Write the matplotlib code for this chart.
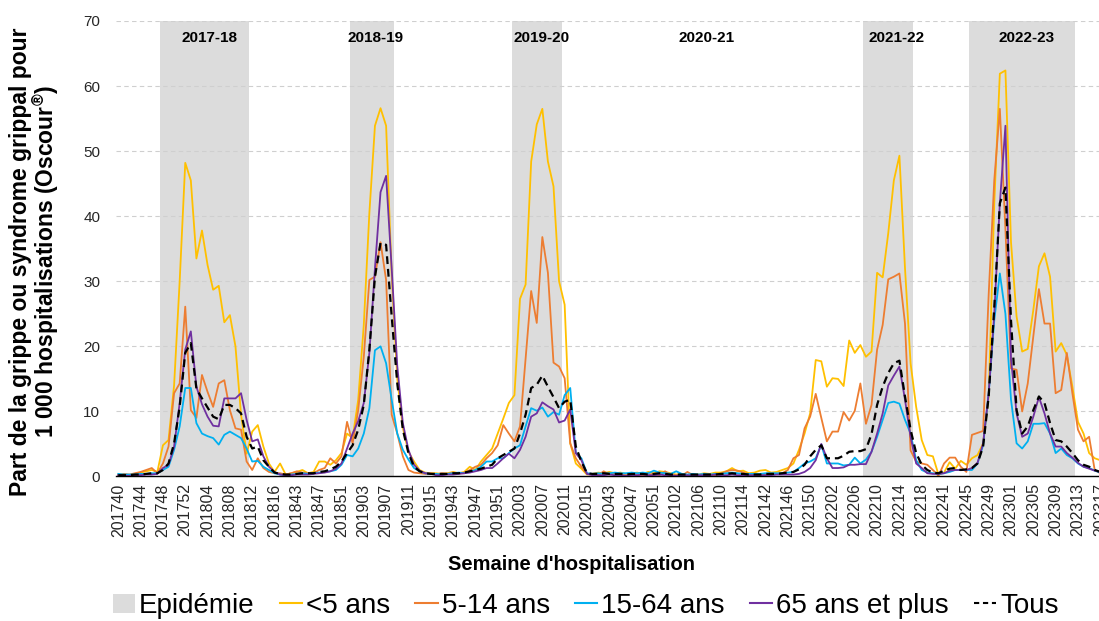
import matplotlib
matplotlib.use("Agg")
import matplotlib.pyplot as plt
from matplotlib.patches import Patch
from matplotlib.lines import Line2D

plt.rcParams['font.family'] = ['Liberation Sans', 'DejaVu Sans']
plt.rcParams['mathtext.fontset'] = 'custom'
plt.rcParams['mathtext.rm'] = 'Liberation Sans:bold'
plt.rcParams['mathtext.default'] = 'rm'

# ---------------- data ----------------
# seasons covered (start year, start week, end year, end week)
season_ranges = [(2017, 40, 2018, 16), (2018, 40, 2019, 15), (2019, 40, 2020, 15),
                 (2020, 40, 2021, 15), (2021, 40, 2022, 20), (2022, 40, 2023, 17)]
weeks_per_year = {2017: 52, 2018: 52, 2019: 52, 2020: 53, 2021: 52, 2022: 52}

weeks = []
for y1, w1, y2, w2 in season_ranges:
    for w in range(w1, weeks_per_year[y1] + 1):
        weeks.append(f"{y1}{w:02d}")
    for w in range(1, w2 + 1):
        weeks.append(f"{y2}{w:02d}")

# epidemic periods (first week, last week)
epidemics = [("201748", "201811"), ("201901", "201908"), ("202002", "202010"),
             ("202208", "202216"), ("202246", "202312")]
season_labels = ["2017-18", "2018-19", "2019-20", "2020-21", "2021-22", "2022-23"]

under5 = [0.3, 0.3, 0.2, 0.4, 0.6, 0.8, 1.0, 0.7, 4.8, 5.6, 14.0, 30.0, 48.2, 45.5, 33.5,
          37.8, 32.5, 28.7, 29.3, 23.7, 24.8, 20.0, 9.5, 3.5, 6.9, 7.9, 4.6, 2.0, 0.7,
          2.0, 0.3, 0.5, 0.7, 1.0, 0.5, 0.7, 2.3, 2.3, 1.8, 2.5, 3.6, 6.6, 5.9, 11.8,
          23.3, 40.5, 53.9, 56.6, 53.9, 31.0, 15.0, 7.5, 3.8, 2.3, 1.0, 0.6, 0.5,
          0.5, 0.4, 0.5, 0.7, 0.5, 0.7, 1.5, 1.0, 2.3, 3.3, 4.3, 6.6, 8.9, 11.3, 12.5,
          27.3, 29.5, 48.4, 54.1, 56.5, 48.4, 44.6, 30.0, 26.4, 5.1, 2.0, 1.2, 0.3,
          0.4, 0.6, 0.5, 0.7, 0.5, 0.6, 0.4, 0.5, 0.6, 0.4, 0.7, 0.5, 0.8, 0.7, 0.5,
          0.3, 0.4, 0.2, 0.3, 0.3, 0.5, 0.4, 0.6, 0.6, 0.8, 1.3, 0.8, 0.9, 0.5,
          0.6, 0.9, 1.0, 0.6, 0.7, 1.0, 1.3, 2.0, 4.1, 6.6, 9.7, 17.9, 17.7, 13.8, 15.1,
          15.0, 13.9, 20.9, 19.0, 20.2, 18.4, 19.2, 31.3, 30.6, 37.4, 45.5, 49.3, 32.0,
          17.4, 10.7, 5.6, 3.3, 3.1,
          0.3, 0.6, 2.2, 1.2, 2.4, 1.8, 2.8, 3.3, 5.1, 12.3, 42.0, 61.9, 62.4, 36.0, 24.6,
          19.2, 19.6, 25.6, 32.3, 34.3, 30.7, 19.2, 20.5, 18.7, 13.8, 8.4, 6.6, 3.6, 2.8, 2.5]

age5_14 = [0.2, 0.4, 0.3, 0.5, 0.7, 1.0, 1.3, 0.5, 2.0, 4.6, 12.8, 14.3, 26.1, 10.2, 9.0,
           15.6, 13.0, 10.7, 14.3, 14.8, 10.2, 7.4, 7.2, 2.3, 1.0, 2.8, 1.3, 0.7, 0.5,
           0.5, 0.3, 0.5, 0.8, 0.6, 0.5, 0.5, 1.0, 1.3, 2.8, 2.0, 3.1, 8.4, 5.1, 10.2,
           18.4, 30.2, 30.7, 36.0, 30.2, 9.5, 6.6, 3.1, 1.0, 0.6, 0.5, 0.4, 0.5,
           0.3, 0.5, 0.4, 0.6, 0.5, 0.5, 1.0, 1.5, 1.8, 2.8, 3.6, 4.8, 7.9, 6.6, 5.4,
           7.7, 18.1, 28.5, 23.6, 36.8, 31.3, 17.5, 16.9, 15.1, 5.1, 2.8, 1.5, 0.4,
           0.3, 0.2, 0.8, 0.3, 0.5, 0.3, 0.2, 0.4, 0.3, 0.2, 0.3, 0.4, 0.2, 0.8, 0.2,
           0.2, 0.1, 0.7, 0.2, 0.2, 0.3, 0.3, 0.2, 0.4, 0.8, 1.0, 0.9, 0.6, 0.3,
           0.3, 0.4, 0.3, 0.4, 0.4, 0.5, 1.0, 2.8, 3.3, 7.4, 9.2, 12.7, 9.0, 5.4, 6.9,
           6.9, 9.9, 8.6, 10.1, 14.3, 8.1, 11.0, 19.5, 23.3, 30.3, 30.7, 31.2, 23.5,
           4.0, 2.3, 2.0, 1.8, 1.0,
           0.1, 2.0, 2.9, 2.9, 1.5, 0.7, 6.4, 6.7, 7.0, 28.0, 45.5, 56.5, 38.0, 16.6, 16.4,
           10.0, 14.3, 21.5, 28.8, 23.5, 23.5, 12.8, 13.3, 19.0, 12.8, 7.2, 5.4, 6.1, 1.0, 0.5]

age15_64 = [0.4, 0.3, 0.3, 0.3, 0.4, 0.4, 0.5, 0.5, 1.0, 1.5, 4.1, 7.7, 13.6, 13.6, 8.2,
            6.6, 6.2, 5.9, 4.9, 6.4, 6.9, 6.4, 5.9, 4.3, 2.3, 2.4, 1.5, 1.0, 0.5,
            0.3, 0.2, 0.3, 0.4, 0.5, 0.4, 0.5, 0.6, 0.7, 0.8, 1.0, 1.8, 3.3, 3.1, 4.3,
            6.6, 10.5, 19.4, 20.0, 17.4, 11.8, 6.6, 4.1, 2.6, 1.3, 0.8, 0.5, 0.4,
            0.4, 0.3, 0.4, 0.5, 0.6, 0.5, 0.7, 1.0, 1.5, 2.3, 2.3, 2.8, 2.8, 3.6, 4.3,
            4.8, 7.7, 10.5, 10.1, 10.6, 9.2, 9.9, 9.5, 12.5, 13.6, 3.6, 2.8, 0.5,
            0.4, 0.5, 0.4, 0.5, 0.6, 0.5, 0.5, 0.6, 0.5, 0.6, 0.5, 0.9, 0.6, 0.5, 0.4,
            0.8, 0.4, 0.3, 0.4, 0.3, 0.4, 0.3, 0.4, 0.4, 0.5, 0.6, 0.5, 0.4, 0.4,
            0.4, 0.4, 0.5, 0.5, 0.5, 0.5, 0.6, 0.7, 1.3, 2.0, 2.3, 2.8, 4.9, 2.0, 2.0,
            2.0, 1.7, 1.8, 2.9, 2.0, 2.6, 3.8, 6.1, 8.7, 11.3, 11.5, 11.2, 8.7,
            6.6, 2.5, 1.0, 0.6, 0.5,
            0.4, 0.5, 0.7, 1.0, 1.0, 1.0, 1.0, 2.0, 4.8, 12.8, 24.0, 31.2, 25.0, 11.8, 5.1,
            4.3, 5.4, 8.1, 8.1, 8.2, 6.6, 3.6, 4.3, 3.3, 2.8, 2.0, 1.5, 1.3, 0.9, 0.6]

age65plus = [0.2, 0.1, 0.1, 0.2, 0.2, 0.3, 0.3, 0.4, 1.3, 1.8, 4.6, 11.3, 19.5, 22.3, 13.8,
             11.1, 9.2, 7.8, 7.7, 12.0, 12.0, 12.0, 12.8, 8.7, 5.4, 5.7, 3.1, 1.5, 0.7,
             0.3, 0.2, 0.2, 0.3, 0.3, 0.3, 0.4, 0.5, 0.6, 0.8, 1.2, 2.0, 4.3, 6.6, 8.5,
             11.3, 19.0, 32.0, 43.7, 46.2, 32.0, 17.0, 8.2, 4.1, 1.8, 0.9, 0.5, 0.4,
             0.2, 0.2, 0.3, 0.3, 0.4, 0.5, 0.6, 0.8, 1.0, 1.3, 1.3, 2.0, 2.8, 3.5, 2.8,
             4.1, 6.1, 9.2, 9.7, 11.4, 10.8, 10.3, 8.3, 8.6, 10.3, 3.6, 2.5, 0.4,
             0.2, 0.2, 0.2, 0.3, 0.2, 0.2, 0.1, 0.2, 0.2, 0.3, 0.2, 0.2, 0.3, 0.2, 0.2,
             0.1, 0.2, 0.2, 0.1, 0.2, 0.2, 0.2, 0.3, 0.2, 0.2, 0.3, 0.2, 0.2, 0.2,
             0.2, 0.2, 0.2, 0.2, 0.3, 0.3, 0.3, 0.3, 0.4, 0.7, 1.3, 2.5, 5.0, 2.8, 1.3,
             1.3, 1.4, 1.8, 1.8, 1.9, 1.9, 3.8, 6.6, 9.7, 14.0, 15.5, 16.9, 11.8,
             6.1, 2.0, 1.3, 0.5, 0.4,
             0.4, 0.5, 0.9, 1.0, 1.0, 1.0, 1.3, 2.1, 5.1, 12.8, 25.0, 42.0, 53.9, 18.0, 9.7,
             6.1, 6.6, 9.2, 12.2, 9.7, 6.6, 4.6, 4.6, 3.6, 2.9, 2.1, 1.5, 1.2, 0.9, 0.7]

tous = [0.2, 0.2, 0.2, 0.3, 0.3, 0.4, 0.5, 0.5, 1.0, 2.0, 5.1, 10.7, 19.0, 20.5, 13.5,
        12.0, 10.6, 9.2, 8.8, 11.0, 11.0, 10.5, 9.7, 6.1, 4.3, 4.6, 2.5, 1.5, 0.6,
        0.4, 0.3, 0.3, 0.4, 0.5, 0.5, 0.5, 0.7, 0.8, 1.1, 1.5, 2.3, 3.6, 4.8, 7.2,
        11.0, 19.5, 30.7, 35.9, 35.6, 24.6, 14.3, 7.2, 3.6, 1.5, 0.8, 0.5, 0.4,
        0.4, 0.4, 0.4, 0.5, 0.5, 0.6, 0.8, 1.0, 1.2, 1.5, 1.8, 2.8, 3.3, 3.8, 4.3,
        6.6, 9.5, 13.6, 14.1, 15.5, 13.8, 12.2, 10.5, 11.5, 11.8, 4.6, 2.3, 0.5,
        0.4, 0.4, 0.5, 0.4, 0.4, 0.4, 0.3, 0.4, 0.4, 0.4, 0.3, 0.4, 0.5, 0.4, 0.3,
        0.3, 0.3, 0.3, 0.3, 0.3, 0.3, 0.3, 0.3, 0.4, 0.4, 0.5, 0.4, 0.4, 0.3,
        0.3, 0.3, 0.4, 0.4, 0.4, 0.5, 0.6, 0.7, 1.1, 1.8, 3.1, 4.1, 4.8, 2.8, 2.8,
        2.8, 3.2, 3.8, 3.9, 3.9, 4.2, 6.5, 11.0, 13.8, 15.9, 17.4, 17.8, 12.3,
        7.2, 3.6, 1.8, 1.0, 0.6,
        0.5, 0.9, 1.2, 1.3, 1.0, 1.1, 1.3, 2.0, 4.6, 12.3, 26.0, 42.0, 44.4, 24.0, 10.2,
        6.6, 7.7, 10.2, 12.3, 11.3, 8.2, 5.6, 5.4, 4.6, 3.6, 2.5, 1.8, 1.5, 1.0, 0.7]

series_names = ["<5 ans", "5-14 ans", "15-64 ans", "65 ans et plus", "Tous"]
series_values = [under5, age5_14, age15_64, age65plus, tous]

# ---------------- style / layout ----------------
colors = ["#FFC000", "#ED7D31", "#00B0F0", "#7030A0", "#000000"]
band_color = "#DCDCDC"
season_label_x = [16.4, 46.1, 75.9, 105.5, 139.4, 162.7]

fig = plt.figure(figsize=(10.99, 6.21), dpi=100)
ax = fig.add_axes([0.1051, 0.2327, 0.8986, 0.7335])
x = list(range(len(weeks)))
ax.set_xlim(-0.5, len(weeks) - 0.5)
ax.set_ylim(0, 70)

for start, end in epidemics:
    i0, i1 = weeks.index(start), weeks.index(end)
    ax.axvspan(i0 - 0.5, i1 + 0.5, color=band_color, lw=0, zorder=0)

ax.set_yticks(range(0, 71, 10))
ax.set_axisbelow(True)
ax.yaxis.grid(True, color="#CFCFCF", linestyle=(0, (4, 3)), linewidth=0.8)

for name, vals, c in zip(series_names, series_values, colors):
    if name == "Tous":
        ax.plot(x, vals, color=c, lw=1.6, linestyle=(0, (3.5, 2.2)), zorder=4)
    else:
        ax.plot(x, vals, color=c, lw=1.3, zorder=3)

for lab, xi in zip(season_labels, season_label_x):
    ax.text(xi, 67.4, lab, ha="center", va="center", fontweight="bold", fontsize=11)

for s in ["top", "right", "left"]:
    ax.spines[s].set_visible(False)
ax.spines["bottom"].set_color("#000000")
ax.spines["bottom"].set_linewidth(1.0)
ax.spines["bottom"].set_zorder(5)

ax.set_xticks(x[::4])
ax.set_xticklabels(weeks[::4], rotation=90, fontsize=11.5, color="#262626")
ax.tick_params(axis="x", length=0, pad=5)
ax.tick_params(axis="y", length=0, pad=11, labelsize=11, labelcolor="#262626")

fig.text(571 / 1099, 1 - 565 / 621, "Semaine d'hospitalisation", ha="center", va="center",
         fontweight="bold", fontsize=14.5)
fig.text(35 / 1099, 1 - 262 / 621,
         "Part de la grippe ou syndrome grippal pour\n1 000 hospitalisations (Oscour$^{®}$)",
         rotation=90, ha="center", va="center", multialignment="center",
         fontweight="bold", fontsize=16.5, linespacing=0.95)

handles = [Patch(facecolor=band_color, edgecolor="none")]
for name, c in zip(series_names, colors):
    if name == "Tous":
        handles.append(Line2D([], [], color=c, lw=1.5, linestyle=(0, (2.5, 1.8))))
    else:
        handles.append(Line2D([], [], color=c, lw=1.5))
labels = ["Epidémie"] + series_names
fig.legend(handles, labels, loc="center", bbox_to_anchor=(0.533, 0.024), ncol=6,
           frameon=False, fontsize=20, handlelength=0.8, handleheight=0.7,
           handletextpad=0.15, columnspacing=0.9, borderpad=0, borderaxespad=0)

fig.savefig("out.png", dpi=100)
